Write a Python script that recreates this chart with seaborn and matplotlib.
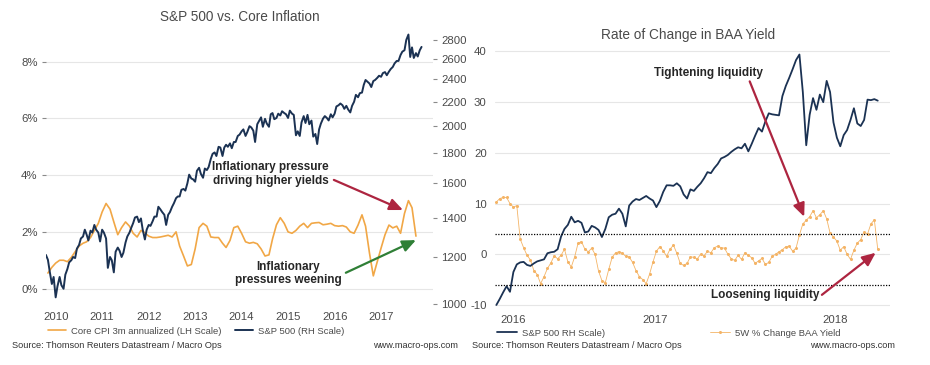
import matplotlib
matplotlib.use("Agg")
import matplotlib.pyplot as plt
import matplotlib.dates as mdates
from matplotlib.lines import Line2D
from matplotlib.ticker import FixedLocator, FuncFormatter, NullFormatter, NullLocator
import pandas as pd
import seaborn as sns

sns.set_style("white")
plt.rcParams["font.family"] = ["Liberation Sans", "DejaVu Sans"]
plt.rcParams["axes.unicode_minus"] = False

NAVY = "#1b3253"
ORANGE = "#f1a746"
ORANGE_LT = "#f4b466"
RED = "#ad2540"
GREEN = "#2f7f36"
TXT = "#4a4a4a"

# ---- left chart: S&P 500 (semi-monthly) vs core CPI 3m annualized (monthly)
spx_2010 = [1210, 1187, 1135, 1080, 1110, 1025, 1070, 1110, 1075, 1060, 1120, 1145,
            1175, 1185, 1200, 1195, 1240]
spx_2011 = [1258, 1290, 1300, 1335, 1310, 1280, 1330, 1320, 1360, 1335, 1320, 1275,
            1335, 1320, 1290, 1150, 1200, 1185, 1130, 1225, 1245, 1230, 1200, 1220]
spx_2012 = [1270, 1300, 1320, 1345, 1370, 1400, 1405, 1375, 1395, 1335, 1285, 1335,
            1360, 1355, 1380, 1405, 1405, 1460, 1445, 1430, 1415, 1360, 1415, 1430]
spx_2013 = [1460, 1480, 1510, 1520, 1520, 1560, 1565, 1555, 1600, 1655, 1630, 1625,
            1610, 1680, 1700, 1660, 1635, 1695, 1685, 1705, 1760, 1795, 1805, 1780]
spx_2014 = [1845, 1840, 1780, 1840, 1860, 1845, 1870, 1835, 1880, 1880, 1925, 1935,
            1960, 1975, 1925, 1955, 2000, 1990, 1965, 1880, 2015, 2040, 2070, 1995]
spx_2015 = [2058, 2020, 1995, 2095, 2105, 2055, 2065, 2100, 2085, 2120, 2105, 2095,
            2065, 2125, 2100, 2090, 1930, 1960, 1925, 2030, 2080, 2025, 2090, 2015]
spx_2016 = [2044, 1920, 1940, 1865, 1975, 2020, 2060, 2080, 2065, 2045, 2095, 2070,
            2100, 2160, 2170, 2185, 2170, 2140, 2165, 2135, 2110, 2165, 2200, 2260]
spx_2017 = [2239, 2275, 2280, 2350, 2395, 2380, 2362, 2330, 2385, 2395, 2415, 2435,
            2425, 2460, 2470, 2440, 2475, 2500, 2520, 2555, 2580, 2580, 2640, 2675]
spx_2018 = [2690, 2800, 2860, 2620, 2720, 2610, 2660, 2625, 2690, 2725]
spx_values = spx_2010 + spx_2011 + spx_2012 + spx_2013 + spx_2014 + spx_2015 + spx_2016 + spx_2017 + spx_2018
spx_dates = pd.date_range("2010-04-15", periods=len(spx_values), freq="SMS")

cpi_2010 = [0.55, 0.75, 0.9, 1.0, 1.0, 0.95, 1.1, 1.3]
cpi_2011 = [1.5, 1.6, 1.65, 1.8, 2.05, 2.3, 2.7, 3.0, 2.8, 2.35, 1.9, 2.15]
cpi_2012 = [2.35, 2.2, 1.95, 1.82, 2.05, 1.97, 1.85, 1.8, 1.8, 1.82, 1.85, 1.88]
cpi_2013 = [1.82, 2.0, 1.5, 1.15, 0.8, 0.85, 1.4, 2.15, 2.3, 2.2, 1.82, 1.8]
cpi_2014 = [1.8, 1.6, 1.45, 1.7, 2.15, 2.2, 1.95, 1.65, 1.6, 1.63, 1.58, 1.4]
cpi_2015 = [1.15, 1.19, 1.75, 2.25, 2.5, 2.3, 2.0, 1.95, 2.05, 2.2, 2.3, 2.15]
cpi_2016 = [2.3, 2.32, 2.33, 2.25, 2.27, 2.3, 2.22, 2.2, 2.22, 2.17, 2.0, 1.95]
cpi_2017 = [2.24, 2.6, 2.2, 1.25, 0.45, 0.95, 1.43, 1.9, 2.24, 2.14, 2.2, 1.95]
cpi_2018 = [2.65, 3.1, 2.85, 1.85]
cpi_values = cpi_2010 + cpi_2011 + cpi_2012 + cpi_2013 + cpi_2014 + cpi_2015 + cpi_2016 + cpi_2017 + cpi_2018
cpi_dates = pd.date_range("2010-05-01", periods=len(cpi_values), freq="MS")

cpi_ticks = [0, 2, 4, 6, 8]
spx_ticks = [1000, 1200, 1400, 1600, 1800, 2000, 2200, 2400, 2600, 2800]
left_year_labels = ["2010", "2011", "2012", "2013", "2014", "2015", "2016", "2017"]

# ---- right chart: 5-day samples from 2016-11-11
spx_roc = [-10, -8.8, -7.5, -6.3, -7.4, -3.5, -2.0, -1.6, -1.5, -2.1,
           -2.3, -1.8, -1.4, -1.2, -1.0, 0.2, 0.4, 0.5, 1.0, 3.5,
           5.0, 5.8, 7.4, 6.3, 6.6, 6.2, 4.3, 4.5, 5.6, 5.3,
           4.8, 3.4, 5.0, 7.3, 7.8, 8.0, 9.0, 8.0, 5.5, 9.6,
           10.4, 10.9, 10.7, 11.1, 11.5, 11.0, 10.6, 9.3, 10.5, 12.3,
           13.6, 13.6, 13.5, 14.0, 13.4, 11.8, 11.0, 12.8, 12.5, 13.3,
           14.0, 15.0, 16.2, 16.0, 17.0, 17.8, 18.9, 19.2, 19.6, 20.2,
           20.7, 21.1, 20.9, 21.8, 20.3, 21.8, 23.4, 24.9, 24.2, 26.2,
           27.8, 27.6, 27.5, 27.4, 31.2, 33.2, 34.8, 36.5, 38.3, 39.4,
           32.0, 21.5, 27.5, 30.8, 28.5, 31.5, 30.0, 34.2, 32.0, 26.0,
           23.0, 21.3, 23.5, 24.5, 26.5, 28.8, 25.8, 25.3, 26.5, 30.5,
           30.4, 30.6, 30.3]
baa_chg = [10.3, 11.0, 11.2, 11.2, 10.0, 9.3, 9.6, 3.0, 1.3, -0.2,
           -1.1, -3.2, -4.0, -5.8, -4.4, -2.8, -1.7, -0.3, -0.9, -0.2,
           1.0, -1.5, -2.5, -0.5, 2.2, 2.5, 1.0, 0.5, 1.2, 0.0,
           -3.3, -5.2, -5.6, -3.0, -0.6, 0.3, 0.5, 0.2, -0.4, -0.5,
           -1.6, -3.2, -4.4, -5.0, -5.8, -3.9, -1.5, 0.6, 1.5, 0.7,
           -0.4, 1.0, 1.8, 0.2, -1.8, -2.2, -1.8, -0.5, -0.6, -0.9,
           0.0, -0.3, 0.6, 0.3, 1.3, 1.6, 1.3, 1.2, 0.0, -0.9,
           -1.2, -0.2, -1.0, 0.3, -0.2, -0.7, -1.8, -1.3, -0.8, -2.0,
           -1.6, -0.4, 0.0, 0.5, 0.9, 1.5, 1.6, 0.6, 1.2, 3.8,
           6.0, 6.7, 7.4, 8.6, 7.2, 7.8, 8.6, 7.0, 4.2, 3.4,
           2.6, 0.8, 1.5, 0.0, -1.0, 0.8, 2.2, 2.9, 4.4, 4.0,
           6.0, 6.8, 1.0]
baa_dates = pd.date_range("2016-11-11", periods=len(baa_chg), freq="5D")
band_levels = [4, -6]
roc_ticks = [-10, 0, 10, 20, 30, 40]
right_year_labels = ["2016", "2017", "2018"]

W, H = 930, 365
fig = plt.figure(figsize=(W / 100, H / 100), dpi=100)


def px_box(x0, y0, x1, y1):
    return [x0 / W, 1 - y1 / H, (x1 - x0) / W, (y1 - y0) / H]


def clean(ax):
    for s in ax.spines.values():
        s.set_visible(False)
    ax.set_xlabel("")
    ax.set_ylabel("")
    ax.tick_params(axis="both", which="both", length=3, width=0.8, color="#8a8a8a",
                   labelsize=8.2, labelcolor=TXT, pad=3)


# ---------------- left panel
ax1 = fig.add_axes(px_box(46, 26.6, 433, 303.7))
ax2 = ax1.twinx()
sns.lineplot(x=cpi_dates, y=cpi_values, ax=ax1, color=ORANGE, linewidth=1.2, estimator=None)
sns.lineplot(x=spx_dates, y=spx_values, ax=ax2, color=NAVY, linewidth=1.4, estimator=None)

ax1.set_xlim(pd.Timestamp("2010-04-16"), pd.Timestamp("2018-08-13"))
ax1.set_ylim(-0.53, 9.23)
ax1.set_yticks(cpi_ticks)
ax1.yaxis.set_major_formatter(FuncFormatter(lambda v, p: f"{v:.0f}%"))
ax1.yaxis.grid(True, color="#e6e6e6", linewidth=0.8)
ax1.xaxis.grid(False)

ax2.set_yscale("log")
ax2.set_ylim(1000, 2950)
ax2.set_yticks(spx_ticks)
ax2.yaxis.set_major_formatter(FuncFormatter(lambda v, p: f"{v:.0f}"))
ax2.yaxis.set_minor_locator(NullLocator())

ax1.xaxis.set_major_locator(mdates.YearLocator())
ax1.xaxis.set_major_formatter(NullFormatter())
left_pos = [mdates.date2num(pd.Timestamp(f"{y}-07-01")) for y in left_year_labels]
ax1.xaxis.set_minor_locator(FixedLocator(left_pos))
ax1.xaxis.set_minor_formatter(FuncFormatter(lambda v, p: mdates.num2date(v).strftime("%Y")))
for ax in (ax1, ax2):
    clean(ax)
ax1.tick_params(axis="x", which="minor", length=0, pad=6)
ax1.tick_params(axis="x", which="major", length=3)

ax1.text(pd.Timestamp("2015-02-14"), 4.04, "Inflationary pressure\ndriving higher yields",
         ha="center", va="center", fontsize=8.5, fontweight="bold", linespacing=1.15, zorder=5)
ax1.text(pd.Timestamp("2015-07-05"), 0.52, "Inflationary\npressures weening",
         ha="center", va="center", fontsize=8.5, fontweight="bold", linespacing=1.1, zorder=5)
arrow_kw = dict(arrowstyle="-|>,head_length=0.8,head_width=0.35", lw=1.6,
                shrinkA=0, shrinkB=0, mutation_scale=10)
ax1.annotate("", xy=(pd.Timestamp("2017-12-20"), 2.77), xytext=(pd.Timestamp("2016-06-25"), 3.83),
             arrowprops=dict(color=RED, **arrow_kw), zorder=6)
ax1.annotate("", xy=(pd.Timestamp("2018-04-01"), 1.71), xytext=(pd.Timestamp("2016-09-27"), 0.56),
             arrowprops=dict(color=GREEN, **arrow_kw), zorder=6)

fig.text(240 / W, 1 - 17 / H, "S&P 500 vs. Core Inflation", ha="center", va="center",
         fontsize=9.8, color=TXT)
fig.legend(handles=[Line2D([], [], color=ORANGE, lw=1.2, label="Core CPI 3m annualized (LH Scale)"),
                    Line2D([], [], color=NAVY, lw=1.4, label="S&P 500 (RH Scale)")],
           loc="center left", bbox_to_anchor=(48 / W, 1 - 331 / H), ncol=2, frameon=False,
           fontsize=6.8, handlelength=1.9, handletextpad=0.5, columnspacing=1.5,
           borderpad=0, borderaxespad=0, labelcolor=TXT)
fig.text(12 / W, 1 - 345 / H, "Source: Thomson Reuters Datastream / Macro Ops",
         ha="left", va="center", fontsize=6.6, color="#333333")
fig.text(458 / W, 1 - 345 / H, "www.macro-ops.com", ha="right", va="center",
         fontsize=6.6, color="#333333")

# ---------------- right panel
ax3 = fig.add_axes(px_box(495, 46.4, 890, 306.5))
sns.lineplot(x=baa_dates, y=baa_chg, ax=ax3, color=ORANGE_LT, linewidth=0.6, marker="o",
             markersize=2.2, markeredgewidth=0, estimator=None)
sns.lineplot(x=baa_dates, y=spx_roc, ax=ax3, color=NAVY, linewidth=1.3, estimator=None)
for lvl in band_levels:
    ax3.axhline(lvl, color="black", linestyle=(0, (1, 1.2)), linewidth=0.9)

x0, x1 = pd.Timestamp("2016-11-09"), pd.Timestamp("2018-06-12")
ax3.set_xlim(x0, x1)
ax3.set_ylim(-10.3, 41)
ax3.set_yticks(roc_ticks)
ax3.yaxis.grid(True, color="#e6e6e6", linewidth=0.8)
ax3.xaxis.grid(False)
ax3.xaxis.set_major_locator(mdates.YearLocator())
ax3.xaxis.set_major_formatter(NullFormatter())
bounds = [x0, pd.Timestamp("2017-01-01"), pd.Timestamp("2018-01-01"), x1]
right_pos = [mdates.date2num(bounds[i] + (bounds[i + 1] - bounds[i]) / 2) for i in range(3)]
ax3.xaxis.set_minor_locator(FixedLocator(right_pos))
ax3.xaxis.set_minor_formatter(FuncFormatter(lambda v, p: right_year_labels[p]))
clean(ax3)
ax3.tick_params(axis="x", which="minor", length=0, pad=6)

ax3.text(pd.Timestamp("2017-09-18"), 35.76, "Tightening liquidity", ha="center", va="center",
         fontsize=8.5, fontweight="bold", zorder=5)
ax3.text(pd.Timestamp("2017-12-10"), -8.03, "Loosening liquidity", ha="center", va="center",
         fontsize=8.5, fontweight="bold", zorder=5)
ax3.annotate("", xy=(pd.Timestamp("2018-02-06"), 7.4), xytext=(pd.Timestamp("2017-11-18"), 34.1),
             arrowprops=dict(color=RED, **arrow_kw), zorder=6)
ax3.annotate("", xy=(pd.Timestamp("2018-05-22"), 0.3), xytext=(pd.Timestamp("2018-03-04"), -8.0),
             arrowprops=dict(color=RED, **arrow_kw), zorder=6)

fig.text(688 / W, 1 - 35 / H, "Rate of Change in BAA Yield", ha="center", va="center",
         fontsize=9.8, color=TXT)
fig.legend(handles=[Line2D([], [], color=NAVY, lw=1.3, label="S&P 500 RH Scale)"),
                    Line2D([], [], color=ORANGE_LT, lw=0.6, marker="o", markersize=2.2,
                           markeredgewidth=0, label="5W % Change BAA Yield")],
           loc="center left", bbox_to_anchor=(497 / W, 1 - 333 / H), ncol=2, frameon=False,
           fontsize=6.8, handlelength=2.1, handletextpad=0.5, columnspacing=11.2,
           borderpad=0, borderaxespad=0, labelcolor=TXT)
fig.text(472 / W, 1 - 346 / H, "Source: Thomson Reuters Datastream / Macro Ops",
         ha="left", va="center", fontsize=6.6, color="#333333")
fig.text(895 / W, 1 - 346 / H, "www.macro-ops.com", ha="right", va="center",
         fontsize=6.6, color="#333333")

fig.savefig("out.png", dpi=100)
